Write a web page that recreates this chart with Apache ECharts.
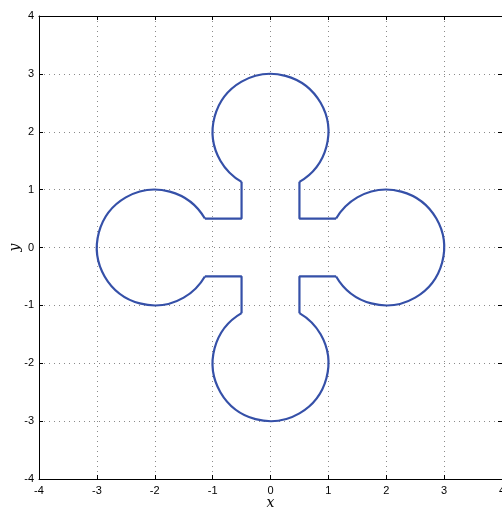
<!DOCTYPE html>
<html>
<head>
<meta charset="utf-8">
<style>
  html, body { margin: 0; padding: 0; background: #fff; }
  #chart { width: 502px; height: 507px; }
</style>
<script src="https://cdn.jsdelivr.net/npm/echarts@6/dist/echarts.min.js"></script>
</head>
<body>
<div id="chart"></div>
<script>
// Axis ticks
const ticks = [-4, -3, -2, -1, 0, 1, 2, 3, 4];

// Lobes: circle centre (x, y), radius, and the arc kept, in degrees (counter-clockwise)
const lobeCenters = [[0, 2], [-2, 0], [0, -2], [2, 0]];
const lobeRadius = 1;
const lobeArcStart = [-60, 30, 120, 210];
const lobeArcEnd = [240, 330, 420, 510];

// Necks joining neighbouring lobes (L-shaped straight runs)
const neckNE = [[0.5, 1.134], [0.5, 0.5], [1.134, 0.5]];
const neckNW = [[-0.5, 1.134], [-0.5, 0.5], [-1.134, 0.5]];
const neckSW = [[-0.5, -1.134], [-0.5, -0.5], [-1.134, -0.5]];
const neckSE = [[0.5, -1.134], [0.5, -0.5], [1.134, -0.5]];

const curveColor = '#3550a8';
const curveWidth = 2.2;
const labelFont = 'Liberation Sans';

const chart = echarts.init(document.getElementById('chart'));

const lobeData = lobeCenters.map((c, i) => [c[0], c[1], lobeArcStart[i], lobeArcEnd[i]]);

function baseAxis(extra) {
  return Object.assign({
    type: 'value',
    min: ticks[0],
    max: ticks[ticks.length - 1],
    interval: 1,
    axisLine: { show: true, onZero: false, lineStyle: { color: '#000', width: 1 } },
    axisTick: { show: true, inside: true, length: 4, lineStyle: { color: '#000' } },
    splitLine: { show: false },
    axisLabel: { show: false }
  }, extra);
}

const gridLine = { show: true, lineStyle: { color: '#8a8a8a', type: [1, 4], width: 1 } };
const labelStyle = { show: true, color: '#000', fontFamily: labelFont, fontSize: 11 };
const nameStyle = { fontFamily: 'DejaVu Serif', fontStyle: 'italic', fontSize: 14, color: '#000' };

const neckSeries = [neckNE, neckNW, neckSW, neckSE].map(n => ({
  type: 'line',
  xAxisIndex: 0,
  yAxisIndex: 0,
  data: n,
  showSymbol: false,
  symbol: 'none',
  lineStyle: { color: curveColor, width: curveWidth },
  silent: true
}));

chart.setOption({
  animation: false,
  backgroundColor: '#fff',
  grid: { left: 39, top: 16, width: 463, height: 463, containLabel: false, outerBoundsMode: 'none' },
  xAxis: [
    baseAxis({
      position: 'bottom',
      splitLine: gridLine,
      axisLabel: Object.assign({ margin: 6 }, labelStyle),
      name: 'x',
      nameLocation: 'middle',
      nameGap: 17,
      nameMoveOverlap: false,
      nameTextStyle: nameStyle
    }),
    baseAxis({ position: 'top' })
  ],
  yAxis: [
    baseAxis({
      position: 'left',
      splitLine: gridLine,
      axisLabel: Object.assign({ margin: 5 }, labelStyle),
      name: 'y',
      nameLocation: 'middle',
      nameGap: 17,
      nameMoveOverlap: false,
      nameRotate: 90,
      nameTextStyle: nameStyle
    }),
    baseAxis({ position: 'right' })
  ],
  series: [
    {
      type: 'custom',
      coordinateSystem: 'cartesian2d',
      xAxisIndex: 0,
      yAxisIndex: 0,
      data: lobeData,
      encode: { x: 0, y: 1 },
      silent: true,
      renderItem: function (params, api) {
        const c = api.coord([api.value(0), api.value(1)]);
        const r = api.size([lobeRadius, lobeRadius])[0];
        const s = api.value(2) * Math.PI / 180;
        const e = api.value(3) * Math.PI / 180;
        return {
          type: 'arc',
          shape: { cx: c[0], cy: c[1], r: r, startAngle: -s, endAngle: -e, clockwise: false },
          style: { stroke: curveColor, lineWidth: curveWidth, fill: null }
        };
      }
    }
  ].concat(neckSeries)
});
</script>
</body>
</html>
